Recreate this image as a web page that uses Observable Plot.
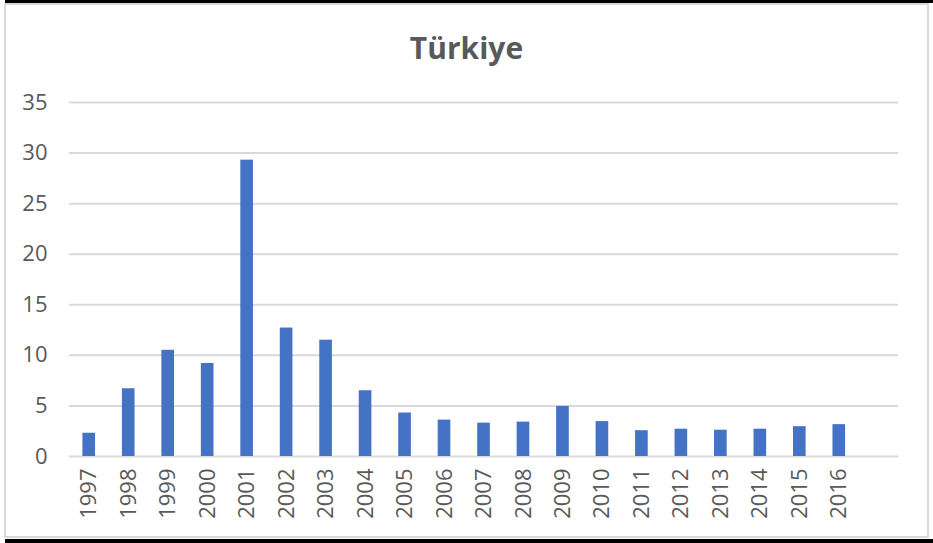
<!DOCTYPE html>
<html>
<head>
<meta charset="utf-8">
<script src="https://cdn.jsdelivr.net/npm/d3@7"></script>
<script src="https://cdn.jsdelivr.net/npm/@observablehq/plot@0.6"></script>
<style>
  html, body { margin: 0; padding: 0; background: #fff; }
  #wrap { position: relative; width: 933px; height: 543px; overflow: hidden; font-family: "Open Sans", sans-serif; }
  .blk { position: absolute; background: #000; }
  #frame { position: absolute; left: 4px; top: 3px; width: 925px; height: 535px; border: 2px solid #d9d9d9; box-sizing: border-box; }
  #title { position: absolute; left: 0; top: 28px; width: 933px; height: 40px; line-height: 40px; text-align: center; font-weight: 700; font-size: 30px; color: #595959; }
  #chart { position: absolute; left: 0; top: 80px; }
</style>
</head>
<body>
<div id="wrap">
  <div class="blk" style="left:5px;top:0;width:928px;height:3px"></div>
  <div id="frame"></div>
  <div class="blk" style="left:5px;top:539px;width:928px;height:4px"></div>
  <div id="title">Türkiye</div>
  <div id="chart"></div>
</div>
<script>
const years = ["1997","1998","1999","2000","2001","2002","2003","2004","2005","2006","2007","2008","2009","2010","2011","2012","2013","2014","2015","2016"];
const values = [2.3, 6.7, 10.5, 9.2, 29.3, 12.7, 11.5, 6.5, 4.3, 3.6, 3.3, 3.4, 4.95, 3.45, 2.55, 2.7, 2.6, 2.7, 2.95, 3.15];
const yTicks = [0, 5, 10, 15, 20, 25, 30, 35];

const data = years.map((y, i) => ({year: y, value: values[i]}));
const textColor = "#595959";

const chart = Plot.plot({
  width: 933,
  height: 463,
  marginLeft: 69,
  marginRight: 35,
  marginTop: 22,
  marginBottom: 87,
  style: {fontFamily: "Open Sans, sans-serif", background: "transparent"},
  x: {domain: [...years, ""], paddingInner: 0.68, paddingOuter: 0.34, round: false, label: null},
  y: {domain: [0, 35], label: null},
  marks: [
    Plot.ruleY(yTicks, {stroke: "#d9d9d9", strokeWidth: 2}),
    Plot.barY(data, {x: "year", y: "value", fill: "#4472C4"}),
    Plot.axisY({ticks: yTicks, tickSize: 0, tickPadding: 22, fontSize: 22, fill: textColor, label: null}),
    Plot.axisX({tickSize: 0, tickRotate: -90, tickPadding: 12, fontSize: 22, fill: textColor, label: null, tickFormat: d => d})
  ]
});
document.getElementById("chart").appendChild(chart);
</script>
</body>
</html>
